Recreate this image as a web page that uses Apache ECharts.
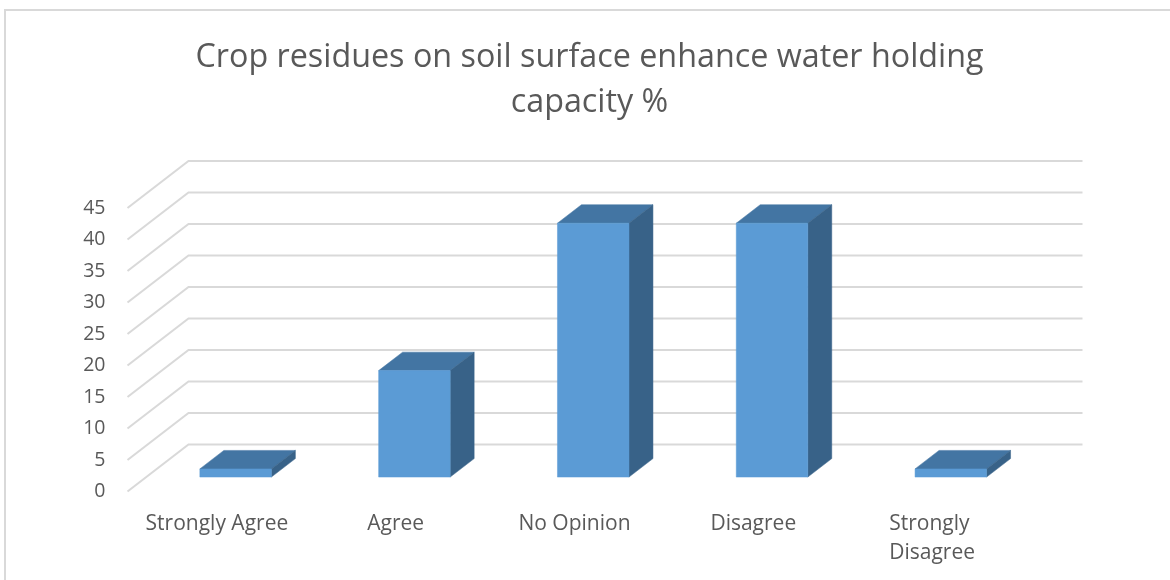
<!DOCTYPE html>
<html>
<head>
<meta charset="utf-8">
<style>
  html, body { margin: 0; padding: 0; background: #fff; }
  #chart { width: 1170px; height: 580px; }
</style>
<script src="https://cdn.jsdelivr.net/npm/echarts@6/dist/echarts.min.js"></script>
</head>
<body>
<div id="chart"></div>
<script>
const titleText = 'Crop residues on soil surface enhance water holding\ncapacity %';
const categories = ['Strongly Agree', 'Agree', 'No Opinion', 'Disagree', 'Strongly Disagree'];
const percentages = [1.3, 16.9, 40.3, 40.3, 1.3];
const yTicks = [0, 5, 10, 15, 20, 25, 30, 35, 40, 45];

// Oblique projection used for the pseudo-3D floor and walls
const WALL_DX = 61;
const WALL_DY = -47;
const BAR_NEAR = 0.307;    // fraction of wall depth where a bar's front face sits
const BAR_DEPTH = 0.393;   // fraction of wall depth a bar occupies
const BAR_WIDTH = 0.4;     // fraction of the category band

const FACE = '#5b9bd5';
const TOP = '#4375a3';
const SIDE = '#386288';
const GRID = '#d9d9d9';
const TEXT = '#595959';
const FONT = '"Open Sans", sans-serif';

function renderWall(params, api) {
  const cs = params.coordSys;
  const y = api.coord([0, api.value(1)])[1];
  const left = cs.x;
  const right = cs.x + cs.width;
  return {
    type: 'polyline',
    silent: true,
    shape: { points: [[left, y], [left + WALL_DX, y + WALL_DY], [right + WALL_DX, y + WALL_DY]] },
    style: { fill: null, stroke: GRID, lineWidth: 2 }
  };
}

function renderBar(params, api) {
  const base = api.coord([api.value(0), 0]);
  const top = api.coord([api.value(0), api.value(1)]);
  const w = api.size([1, 0])[0] * BAR_WIDTH;
  const nx = WALL_DX * BAR_NEAR, ny = WALL_DY * BAR_NEAR;
  const dx = WALL_DX * BAR_DEPTH, dy = WALL_DY * BAR_DEPTH;
  const x0 = base[0] + nx - w / 2, x1 = x0 + w;
  const yb = base[1] + ny, yt = top[1] + ny;
  const poly = (points, fill) => ({
    type: 'polygon',
    shape: { points },
    style: { fill, stroke: fill, lineWidth: 0.5 }
  });
  return {
    type: 'group',
    children: [
      poly([[x0, yt], [x1, yt], [x1 + dx, yt + dy], [x0 + dx, yt + dy]], TOP),
      poly([[x1, yb], [x1 + dx, yb + dy], [x1 + dx, yt + dy], [x1, yt]], SIDE),
      poly([[x0, yb], [x1, yb], [x1, yt], [x0, yt]], FACE)
    ]
  };
}

const chart = echarts.init(document.getElementById('chart'), null, { renderer: 'canvas' });
chart.setOption({
  animation: false,
  backgroundColor: '#ffffff',
  title: {
    text: titleText,
    left: 584.5,
    top: 30,
    textAlign: 'center',
    textStyle: { color: TEXT, fontFamily: FONT, fontSize: 32.3, fontWeight: 'normal', lineHeight: 45 }
  },
  // Outer chart frame: only the top and left edges are visible
  graphic: [{
    type: 'polyline',
    silent: true,
    shape: { points: [[5, 580], [5, 10], [1170, 10]] },
    style: { fill: null, stroke: GRID, lineWidth: 2 }
  }],
  grid: { left: 127.5, top: 208, width: 894, height: 283.5 },
  xAxis: {
    type: 'category',
    data: categories,
    axisLine: { show: false },
    axisTick: { show: false },
    axisLabel: {
      color: TEXT, fontFamily: FONT, fontSize: 21, margin: 18, lineHeight: 29,
      interval: 0, width: 160, overflow: 'break'
    }
  },
  yAxis: {
    type: 'value',
    min: 0,
    max: 45,
    interval: 5,
    splitLine: { show: false },
    axisLine: { show: false },
    axisTick: { show: false },
    axisLabel: { color: TEXT, fontFamily: FONT, fontSize: 19.5, margin: 22, padding: [0, 0, 3, 0] }
  },
  series: [
    {
      type: 'custom',
      name: 'Gridlines',
      z: 1,
      silent: true,
      renderItem: renderWall,
      encode: { x: 0, y: 1 },
      data: yTicks.map(t => [0, t])
    },
    {
      type: 'custom',
      name: 'Crop residues',
      z: 2,
      renderItem: renderBar,
      encode: { x: 0, y: 1 },
      data: percentages.map((v, i) => [i, v])
    }
  ]
});
</script>
</body>
</html>
